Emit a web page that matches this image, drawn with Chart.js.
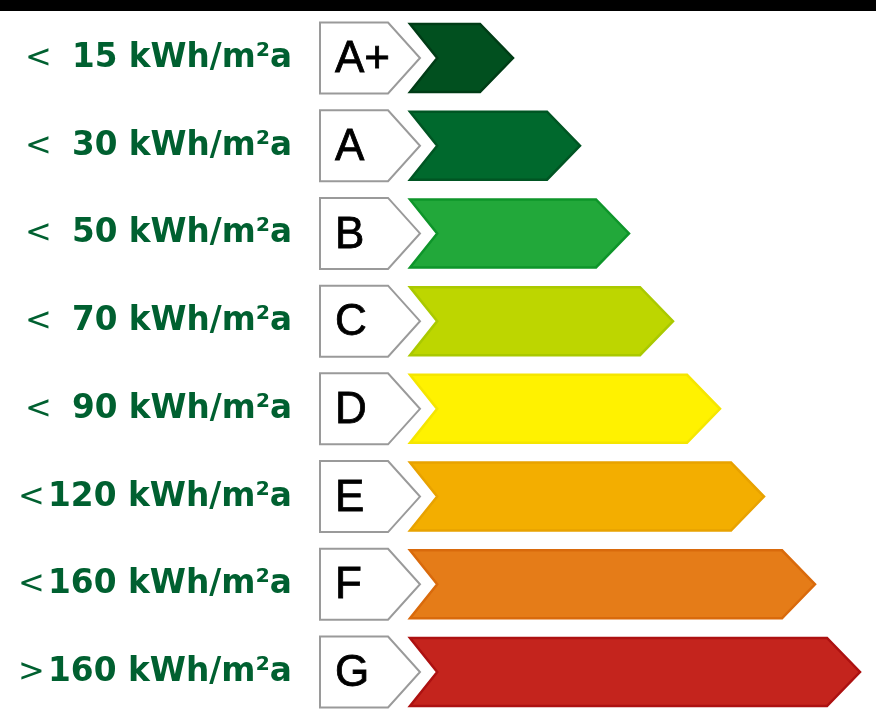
<!DOCTYPE html>
<html>
<head>
<meta charset="utf-8">
<script src="https://cdn.jsdelivr.net/npm/chart.js@4/dist/chart.umd.min.js"></script>
<style>
  html, body { margin: 0; padding: 0; background: #ffffff; }
  #wrap { position: relative; width: 876px; height: 711px; }
  #band { position: absolute; left: 0; top: 0; width: 876px; height: 11px; background: #000; }
  canvas { position: absolute; left: 0; top: 0; }
</style>
</head>
<body>
<div id="wrap">
  <canvas id="c" width="876" height="711"></canvas>
  <div id="band"></div>
</div>
<script>
// ---- data ----
const classes = ['A+', 'A', 'B', 'C', 'D', 'E', 'F', 'G'];
const signs = ['<', '<', '<', '<', '<', '<', '<', '>'];
const thresholds = [15, 30, 50, 70, 90, 120, 160, 160];
const unit = 'kWh/m²a';
const barLength = [103, 170, 219, 263, 310, 354, 405, 450];
const labelBox = [-90, 10];
const fillColors = ['#01501f', '#00692d', '#22a83a', '#bdd600', '#fff200', '#f3ae00', '#e57c18', '#c4241d'];
const edgeColors = ['#003c16', '#005523', '#0e952a', '#aac900', '#f5e600', '#e8a200', '#d96a0c', '#ad1111'];

const shapes = {
  id: 'shapes',
  afterDatasetsDraw(chart) {
    const ctx = chart.ctx;
    const yScale = chart.scales.y;
    // label boxes (dataset 0)
    const boxMeta = chart.getDatasetMeta(0);
    const boxLeft = [];
    boxMeta.data.forEach((el, i) => {
      const p = el.getProps(['x', 'y', 'base', 'height'], true);
      const left = Math.min(p.x, p.base), right = Math.max(p.x, p.base);
      boxLeft[i] = left;
      const top = p.y - p.height / 2, bot = p.y + p.height / 2;
      const tip = p.height / 2 * 0.9;
      ctx.save();
      ctx.beginPath();
      ctx.moveTo(left, top);
      ctx.lineTo(right - tip, top);
      ctx.lineTo(right, p.y);
      ctx.lineTo(right - tip, bot);
      ctx.lineTo(left, bot);
      ctx.closePath();
      ctx.fillStyle = '#ffffff';
      ctx.fill();
      ctx.lineWidth = 2;
      ctx.strokeStyle = '#9a9a9a';
      ctx.stroke();
      ctx.restore();
    });
    // coloured arrows (dataset 1)
    const barMeta = chart.getDatasetMeta(1);
    barMeta.data.forEach((el, i) => {
      const p = el.getProps(['x', 'y', 'base', 'height'], true);
      const left = Math.min(p.x, p.base), right = Math.max(p.x, p.base);
      const top = p.y - p.height / 2, bot = p.y + p.height / 2;
      const tip = p.height / 2 * 0.97;
      const notch = p.height / 2 * 0.8;
      ctx.save();
      ctx.beginPath();
      ctx.moveTo(left, top);
      ctx.lineTo(right - tip, top);
      ctx.lineTo(right, p.y);
      ctx.lineTo(right - tip, bot);
      ctx.lineTo(left, bot);
      ctx.lineTo(left + notch, p.y);
      ctx.closePath();
      ctx.fillStyle = fillColors[i];
      ctx.fill();
      ctx.lineWidth = 2.5;
      ctx.lineJoin = 'miter';
      ctx.strokeStyle = edgeColors[i];
      ctx.stroke();
      ctx.restore();
    });
    // class letters inside the boxes
    ctx.save();
    ctx.fillStyle = '#000000';
    ctx.font = '44px "Liberation Sans", Arial, sans-serif';
    ctx.textAlign = 'left';
    ctx.textBaseline = 'middle';
    ctx.lineWidth = 0.8;
    ctx.strokeStyle = '#000000';
    boxMeta.data.forEach((el, i) => {
      const p = el.getProps(['y'], true);
      ctx.fillText(classes[i], boxLeft[i] + 15, p.y + 2);
      ctx.strokeText(classes[i], boxLeft[i] + 15, p.y + 2);
    });
    ctx.restore();
    // threshold labels on the left
    ctx.save();
    ctx.fillStyle = '#006030';
    ctx.textBaseline = 'alphabetic';
    classes.forEach((c, i) => {
      const y = yScale.getPixelForValue(i) + 9;
      const wide = thresholds[i] >= 100;
      ctx.textAlign = 'left';
      ctx.font = '32px "DejaVu Sans", Verdana, sans-serif';
      ctx.fillText(signs[i], wide ? 18 : 25, y);
      ctx.font = 'bold 34px "DejaVu Sans", Verdana, sans-serif';
      ctx.textAlign = 'right';
      ctx.fillText(thresholds[i] + ' ' + unit, 292, y, wide ? 244 : 220);
    });
    ctx.restore();
  }
};

new Chart(document.getElementById('c'), {
  type: 'bar',
  data: {
    labels: classes,
    datasets: [
      {
        label: 'class',
        data: classes.map(() => labelBox),
        backgroundColor: 'rgba(0,0,0,0)',
        borderWidth: 0,
        barThickness: 71,
        grouped: false,
        clip: false
      },
      {
        label: 'energy',
        data: barLength,
        backgroundColor: 'rgba(0,0,0,0)',
        borderWidth: 0,
        barThickness: 68,
        grouped: false,
        clip: false
      }
    ]
  },
  options: {
    indexAxis: 'y',
    responsive: false,
    maintainAspectRatio: false,
    animation: false,
    events: [],
    layout: { padding: { left: 320, right: 0, top: 58, bottom: 39 } },
    plugins: { legend: { display: false }, tooltip: { enabled: false } },
    scales: {
      x: { display: false, min: -90, max: 466 },
      y: { display: false, offset: false }
    }
  },
  plugins: [shapes]
});
</script>
</body>
</html>
